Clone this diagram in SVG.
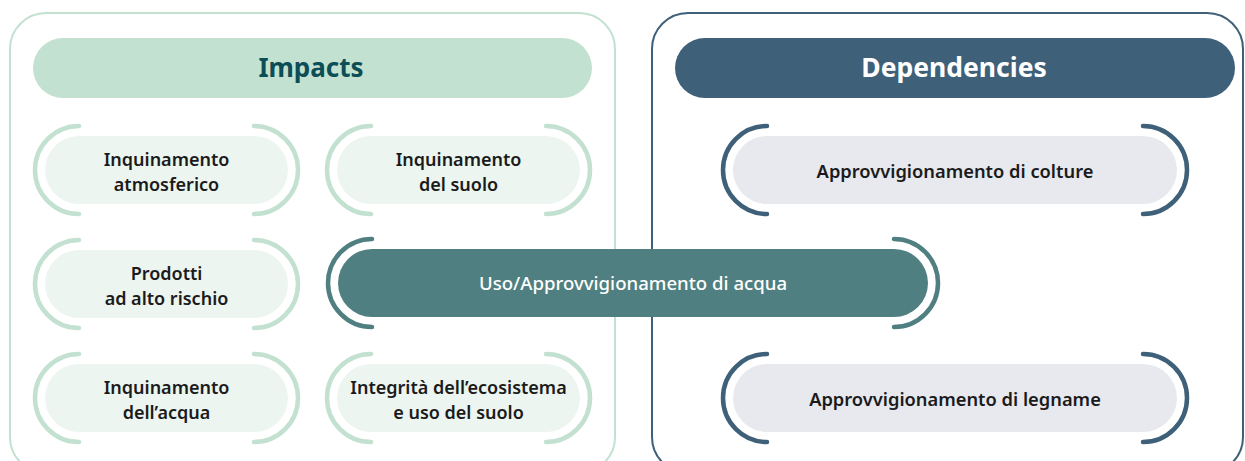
<svg xmlns="http://www.w3.org/2000/svg" width="1245" height="461" viewBox="0 0 1245 461">
<style>
.t{font-family:"Noto Sans","Open Sans","DejaVu Sans",sans-serif;text-anchor:middle}
.nt{font-size:18px;font-weight:600;fill:#1b1b1b}
.dt{font-size:18.3px;font-weight:600;fill:#1b1b1b}
.gp{fill:#edf5f1}
.gb{fill:none;stroke:#c3e1d0;stroke-width:4.5;stroke-linecap:round}
.dp{fill:#e8e9ee}
.db{fill:none;stroke:#3f6079;stroke-width:4.5;stroke-linecap:round}
.wb{fill:none;stroke:#4f7f80;stroke-width:4.5;stroke-linecap:round}
</style>
<rect width="1245" height="461" fill="#ffffff"/>
<g id="panel-impacts">
<rect x="10" y="13" width="605" height="460" rx="36" fill="none" stroke="#c3e1d0" stroke-width="2"/>
<rect x="33" y="38" width="559" height="60" rx="30" fill="#c3e1d0"/>
<text class="t" x="311" y="77" font-size="26" font-weight="700" fill="#0d4d55">Impacts</text>
</g>
<g id="panel-dependencies">
<rect x="652" y="13" width="591" height="460" rx="36" fill="none" stroke="#3f6079" stroke-width="2"/>
<rect x="675" y="38" width="560" height="60" rx="30" fill="#3f6079"/>
<text class="t" x="954" y="77" font-size="26.5" font-weight="700" fill="#ffffff">Dependencies</text>
</g>
<g id="connectors"></g>
<g id="n-atmosferico">
<rect class="gp" x="45" y="136" width="243" height="68" rx="34"/>
<path class="gb" d="M79,126 A44,44 0 0 0 79,214"/>
<path class="gb" d="M254,126 A44,44 0 0 1 254,214"/>
<text class="t nt" x="166.5" y="166">Inquinamento</text>
<text class="t nt" x="166.5" y="191">atmosferico</text>
</g>
<g id="n-suolo">
<rect class="gp" x="337" y="136" width="243" height="68" rx="34"/>
<path class="gb" d="M371,126 A44,44 0 0 0 371,214"/>
<path class="gb" d="M546,126 A44,44 0 0 1 546,214"/>
<text class="t nt" x="458.5" y="166">Inquinamento</text>
<text class="t nt" x="458.5" y="191">del suolo</text>
</g>
<g id="n-prodotti">
<rect class="gp" x="45" y="250" width="243" height="68" rx="34"/>
<path class="gb" d="M79,240 A44,44 0 0 0 79,328"/>
<path class="gb" d="M254,240 A44,44 0 0 1 254,328"/>
<text class="t nt" x="166.5" y="280">Prodotti</text>
<text class="t nt" x="166.5" y="305">ad alto rischio</text>
</g>
<g id="n-acqua-inq">
<rect class="gp" x="45" y="364" width="243" height="68" rx="34"/>
<path class="gb" d="M79,354 A44,44 0 0 0 79,442"/>
<path class="gb" d="M254,354 A44,44 0 0 1 254,442"/>
<text class="t nt" x="166.5" y="394">Inquinamento</text>
<text class="t nt" x="166.5" y="419">dell’acqua</text>
</g>
<g id="n-ecosistema">
<rect class="gp" x="337" y="364" width="243" height="68" rx="34"/>
<path class="gb" d="M371,354 A44,44 0 0 0 371,442"/>
<path class="gb" d="M546,354 A44,44 0 0 1 546,442"/>
<text class="t nt" x="458.5" y="394">Integrità dell’ecosistema</text>
<text class="t nt" x="458.5" y="419">e uso del suolo</text>
</g>
<g id="n-colture">
<rect class="dp" x="733" y="136" width="444" height="68" rx="34"/>
<path class="db" d="M767,126 A44,44 0 0 0 767,214"/>
<path class="db" d="M1143,126 A44,44 0 0 1 1143,214"/>
<text class="t dt" x="955" y="178">Approvvigionamento di colture</text>
</g>
<g id="n-legname">
<rect class="dp" x="733" y="364" width="444" height="68" rx="34"/>
<path class="db" d="M767,354 A44,44 0 0 0 767,442"/>
<path class="db" d="M1143,354 A44,44 0 0 1 1143,442"/>
<text class="t dt" x="955" y="406">Approvvigionamento di legname</text>
</g>
<g id="n-uso-acqua">
<rect x="338" y="249" width="590" height="68" rx="34" fill="#4f7f80"/>
<path class="wb" d="M372,239 A44,44 0 0 0 372,327"/>
<path class="wb" d="M894,239 A44,44 0 0 1 894,327"/>
<text class="t" x="633" y="290" font-size="18.6" font-weight="500" fill="#ffffff">Uso/Approvvigionamento di acqua</text>
</g>
</svg>
